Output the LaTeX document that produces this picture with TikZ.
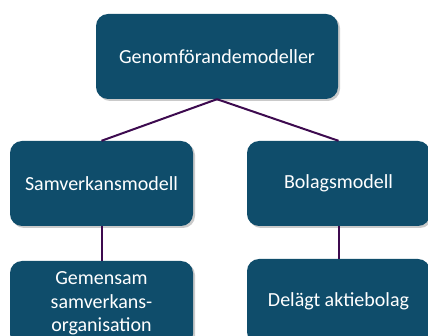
\documentclass[tikz,border=0pt]{standalone}
\usepackage{fontspec}
\setmainfont{Carlito}
\usetikzlibrary{shadows}
\definecolor{boxfill}{HTML}{0F4D6B}
\definecolor{linkcol}{HTML}{3D0A4F}
\tikzset{
  box/.style={draw=none, fill=boxfill, rounded corners=12pt, text=white,
    font=\fontsize{20}{23.5}\selectfont, align=center, inner sep=0pt,
    drop shadow={shadow xshift=2pt, shadow yshift=-2pt, opacity=0.35, fill=black!60}},
  link/.style={draw=linkcol, line width=2pt}
}
\begin{document}
\begin{tikzpicture}[x=1pt,y=1pt]
\useasboundingbox (0,0) rectangle (428,-336);
\clip (0,0) rectangle (428,-336);
\node[box, minimum width=242, minimum height=85] (top) at (217,-56.5) {Genomförandemodeller};
\node[box, minimum width=183, minimum height=85] (sam) at (101.5,-183.5) {Samverkansmodell};
\node[box, minimum width=183, minimum height=85] (bol) at (338.5,-183.5) {Bolagsmodell};
\node[box, minimum width=183, minimum height=85, text width=170] (gem) at (101.5,-303.5) {Gemensam\\samverkans-\\organisation};
\node[box, minimum width=183, minimum height=85] (del) at (338.5,-301.5) {Delägt aktiebolag};
\draw[link] (top.south) -- (sam.north);
\draw[link] (top.south) -- (bol.north);
\draw[link] (sam.south) -- (gem.north);
\draw[link] (bol.south) -- (del.north);
\end{tikzpicture}
\end{document}
